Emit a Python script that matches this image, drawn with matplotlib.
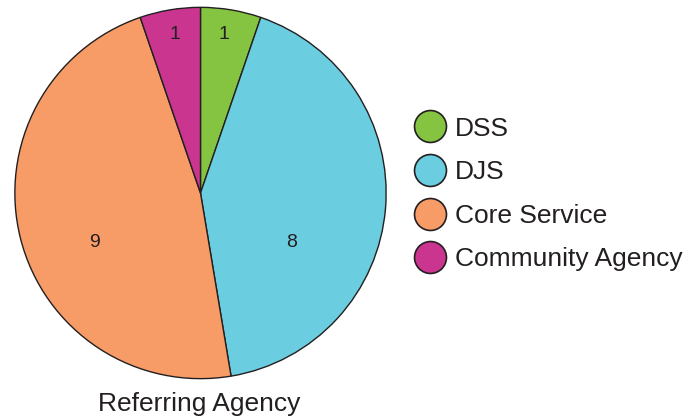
import matplotlib.pyplot as plt
from matplotlib.lines import Line2D

plt.rcParams['font.family'] = ['Liberation Sans', 'DejaVu Sans']

# --- data ---
agencies = ["DSS", "DJS", "Core Service", "Community Agency"]
counts = [1, 8, 9, 1]
colors = ["#84C441", "#6BCDE0", "#F79B67", "#C9358F"]
title = "Referring Agency"

# label positions inside the pie (fraction of radius)
label_pos = [(0.125, 0.853), (0.488, -0.267), (-0.573, -0.267), (-0.136, 0.853)]

ink = "#231F20"

fig = plt.figure(figsize=(6.95, 4.16), dpi=100)
ax = fig.add_axes([13 / 695, 35 / 416, 375 / 695, 376 / 416])
wedges, _ = ax.pie(counts, colors=colors, startangle=90, counterclock=False,
                   radius=1, wedgeprops=dict(edgecolor=ink, linewidth=1.0))
for (x, y), n in zip(label_pos, counts):
    ax.text(x, y, str(n), ha="center", va="center", fontsize=14, color=ink)
ax.set_xlim(-1.01, 1.01)
ax.set_ylim(-1.01, 1.01)
ax.set_aspect("equal")
ax.axis("off")

fig.text(199 / 695, 1 - 404 / 416, title, ha="center", va="center",
         fontsize=19, color=ink)

handles = [Line2D([], [], marker="o", linestyle="none", markersize=23,
                  markerfacecolor=c, markeredgecolor=ink, markeredgewidth=1.2)
           for c in colors]
fig.legend(handles, agencies, loc="center left", bbox_to_anchor=(401 / 695, 1 - 194 / 416),
           frameon=False, fontsize=19, labelcolor=ink, handletextpad=0.25,
           labelspacing=0.74, handlelength=1.4, borderaxespad=0)

fig.savefig("out.png", dpi=100)
